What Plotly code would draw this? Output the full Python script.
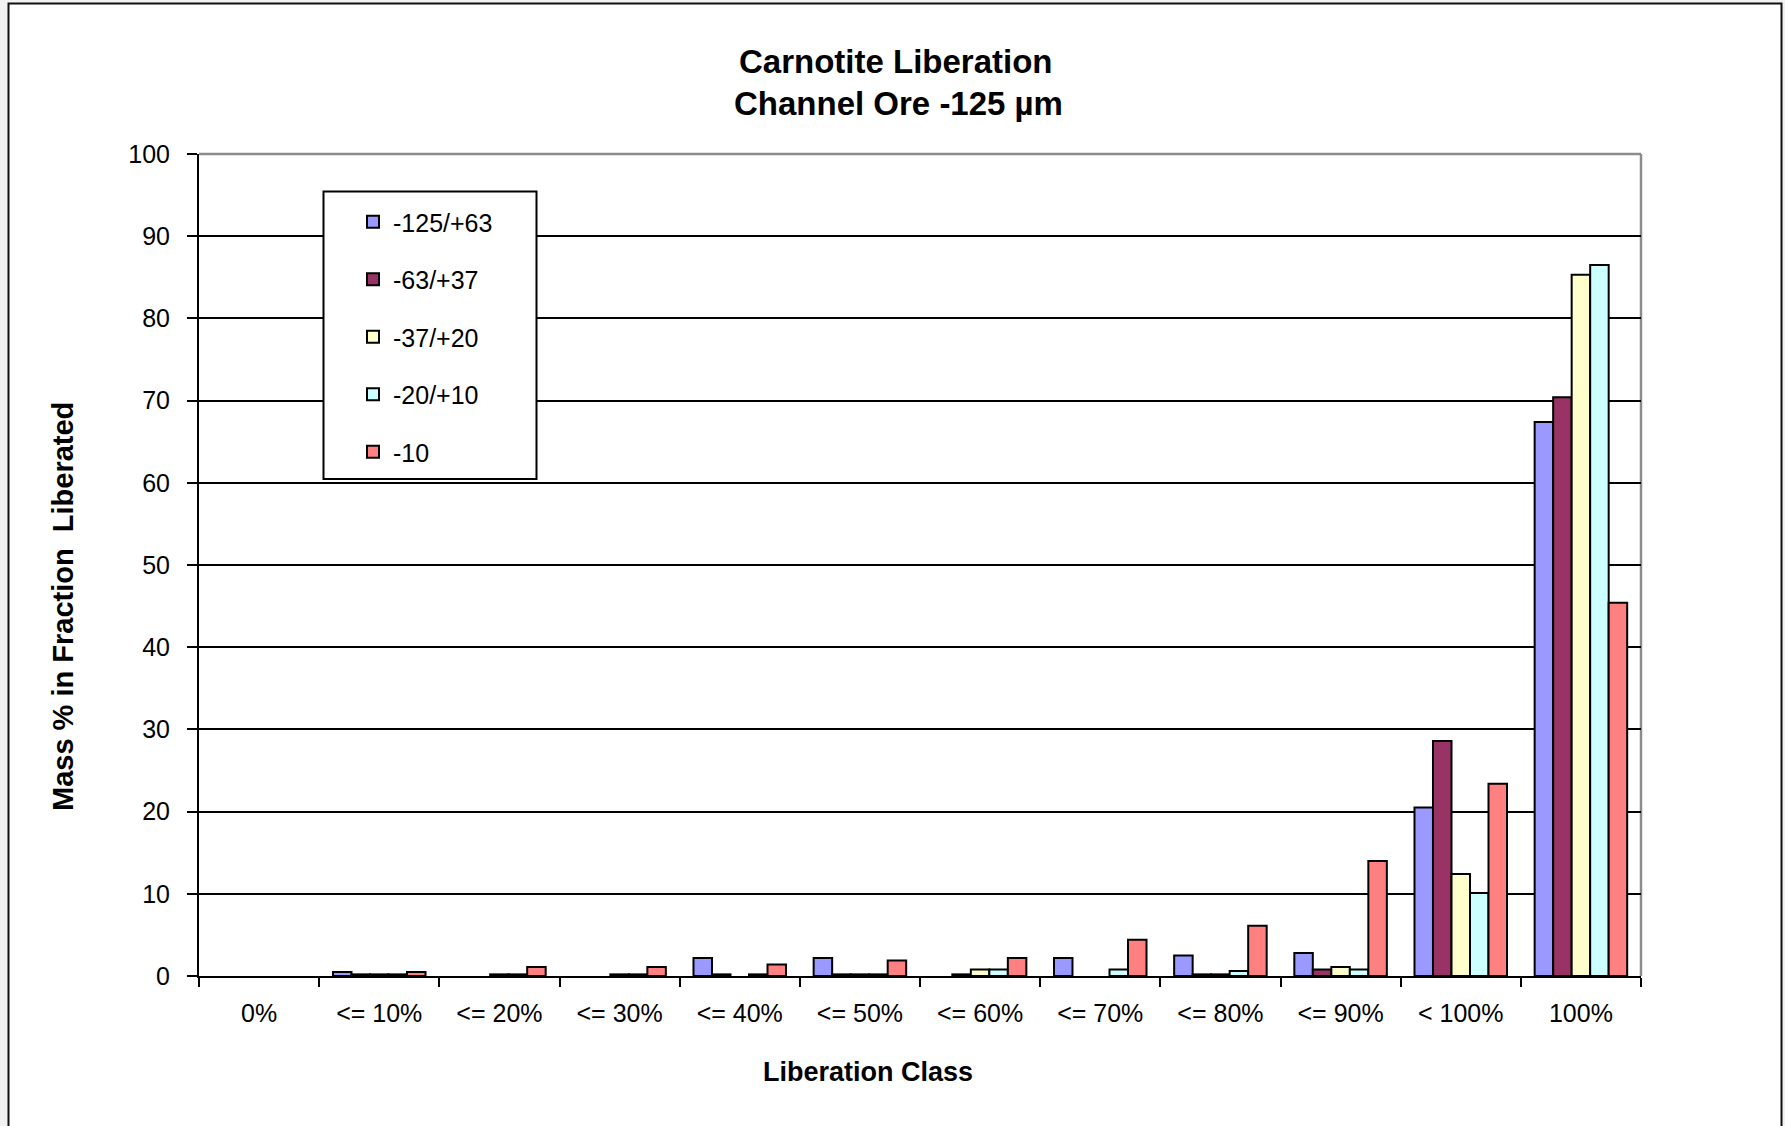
import plotly.graph_objects as go

# Liberation classes (x categories)
classes = ["0%", "<= 10%", "<= 20%", "<= 30%", "<= 40%", "<= 50%",
           "<= 60%", "<= 70%", "<= 80%", "<= 90%", "< 100%", "100%"]

# Size fractions (µm) and their mass % per liberation class
series_names = ["-125/+63", "-63/+37", "-37/+20", "-20/+10", "-10"]
frac_125_63 = [0, 0.5, 0, 0, 2.2, 2.2, 0, 2.2, 2.5, 2.8, 20.5, 67.4]
frac_63_37 = [0, 0.2, 0, 0, 0.2, 0.2, 0.2, 0, 0.2, 0.8, 28.6, 70.4]
frac_37_20 = [0, 0.2, 0.2, 0.2, 0, 0.2, 0.8, 0, 0.2, 1.1, 12.4, 85.3]
frac_20_10 = [0, 0.2, 0.2, 0.2, 0.2, 0.2, 0.8, 0.8, 0.6, 0.8, 10.1, 86.5]
frac_10 = [0, 0.5, 1.1, 1.1, 1.4, 1.9, 2.2, 4.4, 6.1, 14.0, 23.4, 45.4]

series_values = [frac_125_63, frac_63_37, frac_37_20, frac_20_10, frac_10]
series_colors = ["#9999FF", "#993366", "#FFFFCC", "#CCFFFF", "#FF8080"]

y_ticks = [0, 10, 20, 30, 40, 50, 60, 70, 80, 90, 100]

FONT = "Arial, Liberation Sans, sans-serif"
W, H = 1785, 1126
L, R, T, B = 199, 1641, 154, 976  # plot area in pixels


def px_x(px):
    return (px - L) / (R - L)


def px_y(py):
    return (B - py) / (B - T)


fig = go.Figure()
for i, (name, vals, col) in enumerate(zip(series_names, series_values, series_colors)):
    # empty classes get no bar at all (no outline stub on the axis)
    shown = [v if v > 0 else None for v in vals]
    fig.add_trace(go.Bar(
        x=classes, y=shown, name=name, legendgroup=f"g{i}",
        marker=dict(color=col, line=dict(color="#000000", width=2)),
    ))

shapes = [
    # outer chart frame
    dict(type="rect", xref="paper", yref="paper",
         x0=px_x(8.5), x1=px_x(1781.5), y0=px_y(1140), y1=px_y(3.5),
         line=dict(color="#111111", width=2), fillcolor="white", layer="below"),
    # grey plot-area border on top and right
    dict(type="line", xref="paper", yref="paper", x0=0, x1=1, y0=1, y1=1,
         line=dict(color="#8c8c8c", width=2.5), layer="between"),
    dict(type="line", xref="paper", yref="paper", x0=1, x1=1, y0=0, y1=1,
         line=dict(color="#8c8c8c", width=2.5), layer="between"),
    # legend box
    dict(type="rect", xref="paper", yref="paper",
         x0=px_x(323.5), x1=px_x(536.5), y0=px_y(479), y1=px_y(191.5),
         line=dict(color="#000000", width=2), fillcolor="white", layer="above"),
]

annotations = [
    dict(text="<b>Carnotite Liberation</b>", x=px_x(896), y=px_y(61.5),
         xref="paper", yref="paper", xanchor="center", yanchor="middle",
         showarrow=False, font=dict(family=FONT, size=33, color="black")),
    dict(text="<b>Channel Ore -125 µm</b>", x=px_x(898), y=px_y(104),
         xref="paper", yref="paper", xanchor="center", yanchor="middle",
         showarrow=False, font=dict(family=FONT, size=33, color="black")),
    dict(text="<b>Liberation Class</b>", x=px_x(868), y=px_y(1072),
         xref="paper", yref="paper", xanchor="center", yanchor="middle",
         showarrow=False, font=dict(family=FONT, size=27, color="black")),
    dict(text="<b>Mass % in Fraction  Liberated</b>", x=px_x(63), y=px_y(607),
         xref="paper", yref="paper", xanchor="center", yanchor="middle",
         textangle=-90, showarrow=False,
         font=dict(family=FONT, size=29, color="black")),
]

fig.update_layout(
    width=W, height=H,
    margin=dict(l=L, r=W - R, t=T, b=H - B, pad=0),
    paper_bgcolor="#f2f2f2", plot_bgcolor="white",
    barmode="group", bargap=0.23, bargroupgap=0,
    font=dict(family=FONT, size=25, color="black"),
    showlegend=True,
    legend=dict(x=px_x(353), y=px_y(199), xanchor="left", yanchor="top",
                bgcolor="rgba(0,0,0,0)", borderwidth=0,
                traceorder="grouped", tracegroupgap=22,
                font=dict(family=FONT, size=25, color="black")),
    xaxis=dict(type="category", showgrid=False, showline=True,
               linecolor="black", linewidth=2, ticks="outside",
               tickson="boundaries", ticklen=9, tickwidth=2,
               tickcolor="black", ticklabelstandoff=14,
               tickfont=dict(family=FONT, size=25, color="black")),
    yaxis=dict(range=[0, 100], tickvals=y_ticks, showgrid=True,
               gridcolor="black", gridwidth=2, zeroline=False,
               showline=True, linecolor="black", linewidth=2,
               ticks="outside", ticklen=10, tickwidth=2, tickcolor="black",
               ticklabelstandoff=12,
               tickfont=dict(family=FONT, size=25, color="black")),
    shapes=shapes, annotations=annotations,
)

fig.write_html("out.html")
